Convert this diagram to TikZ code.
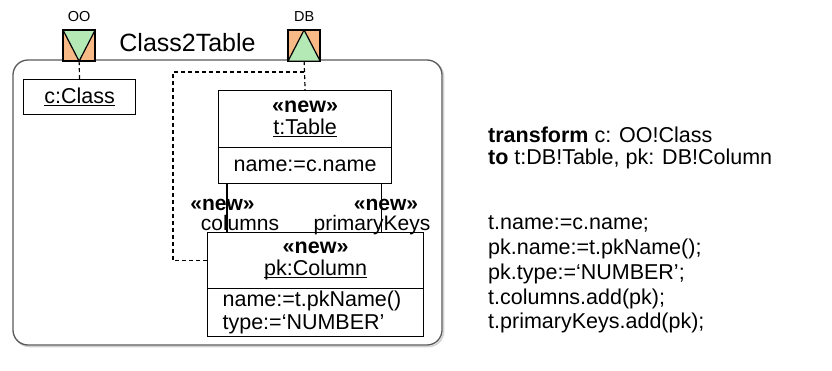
\documentclass[tikz,border=0pt]{standalone}
\usepackage{fontspec}
\setmainfont{Liberation Sans}
\definecolor{boxorange}{RGB}{247,186,135}
\definecolor{boxgreen}{RGB}{180,232,180}
\definecolor{framegray}{RGB}{90,90,90}
\newcommand{\myul}[1]{\setbox0\hbox{#1}\rlap{\vrule height -1.6pt depth 2.8pt width \wd0}\box0}
\tikzset{
  fsz/.style={font=\fontsize{21.5}{22}\selectfont},
  uml/.style={draw, line width=1.2pt, inner sep=0pt, anchor=north west, fsz},
  conn/.style={line width=1.2pt},
  dconn/.style={line width=1.2pt, dash pattern=on 4pt off 3pt},
  mm/.style={draw, line width=1.2pt, fill=boxorange, inner sep=0pt, minimum width=31pt, minimum height=30pt, anchor=north west},
  lbl/.style={inner sep=0pt, font=\fontsize{21}{22}\selectfont, anchor=base},
  code/.style={inner sep=0pt, fsz, anchor=base west},
}
\begin{document}
\begin{tikzpicture}[x=1pt,y=-1pt]
\useasboundingbox (0,0) rectangle (832,371);
% frame
\draw[gray!35, line width=1.6pt, rounded corners=15pt] (14.5,61.5) rectangle (443.5,346.5);
\draw[framegray, line width=1.3pt, rounded corners=15pt, fill=white] (13,60) rectangle (442,345);
% metamodel boxes
\node[mm] (OObox) at (63,30) {};
\fill[boxgreen, draw=black, line width=1.2pt, line join=round] (OObox.north west) -- (OObox.north east) -- (OObox.south) -- cycle;
\draw[line width=1.2pt] (OObox.north west) rectangle (OObox.south east);
\node[mm] (DBbox) at (288,30) {};
\fill[boxgreen, draw=black, line width=1.2pt, line join=round] (DBbox.south west) -- (DBbox.south east) -- (DBbox.north) -- cycle;
\draw[line width=1.2pt] (DBbox.north west) rectangle (DBbox.south east);
\node[inner sep=0pt, font=\fontsize{14.5}{15}\selectfont, anchor=base] (OOlbl) at (OObox.north |- 0,22) {OO};
\node[inner sep=0pt, font=\fontsize{14.5}{15}\selectfont, anchor=base] (DBlbl) at (DBbox.north |- 0,22) {DB};
\node[inner sep=0pt, font=\fontsize{25}{26}\selectfont, anchor=base] (title) at (187.5,52) {Class2Table};
% objects
\node[uml, minimum width=112pt, minimum height=35pt] (cclass) at (23,79) {\myul{c:Class}};
\node[uml, minimum width=173pt, minimum height=57pt, align=center] (tHead) at (218,90) {\textbf{«new»}\\[0pt]\myul{t:Table}};
\node[uml, minimum width=173pt, minimum height=36pt] (tAttr) at (218,147) {name:=c.name};
\node[uml, minimum width=216pt, minimum height=56pt, align=center] (pkHead) at (207,232) {\textbf{«new»}\\[0pt]\myul{pk:Column}};
\node[uml, minimum width=216pt, minimum height=48pt, text width=186pt, inner xsep=15pt, align=left, font=\fontsize{21.5}{23}\selectfont] (pkAttr) at (207,288) {name:=t.pkName()\\type:=‘NUMBER’};
% dashed links
\draw[dconn] (OObox.south) -- (cclass.north);
\coordinate (dbturn) at (DBbox.south |- 0,72);
\coordinate (leftturn) at (173,72);
\draw[dconn] (DBbox.south) -- (tHead.north);
\draw[dconn] (dbturn) -- (leftturn) |- (pkHead.west);
% associations
\draw[conn] ([xshift=9pt]tAttr.south west) -- ([xshift=9pt]tAttr.south west |- pkHead.north);
\draw[conn] ([xshift=-11pt]tAttr.south east) -- ([xshift=-11pt]tAttr.south east |- pkHead.north);
\node[lbl] (newc) at (222.5,210.5) {\textbf{«new»}};
\node[lbl] (colslbl) at (240,230.5) {columns};
\node[lbl] (newp) at (386,210.5) {\textbf{«new»}};
\node[lbl] (pklbl) at (372,230.5) {primaryKeys};
% textual rule
\node[code] (r1) at (488,143) {\textbf{transform} c: OO!Class};
\node[code] (r2) at (488,165) {\textbf{to} t:DB!Table, pk: DB!Column};
\node[code] (c1) at (488,230) {t.name:=c.name;};
\node[code] (c2) at (488,254.7) {pk.name:=t.pkName();};
\node[code] (c3) at (488,279.4) {pk.type:=‘NUMBER’;};
\node[code] (c4) at (488,304.1) {t.columns.add(pk);};
\node[code] (c5) at (488,328.8) {t.primaryKeys.add(pk);};
\end{tikzpicture}
\end{document}
